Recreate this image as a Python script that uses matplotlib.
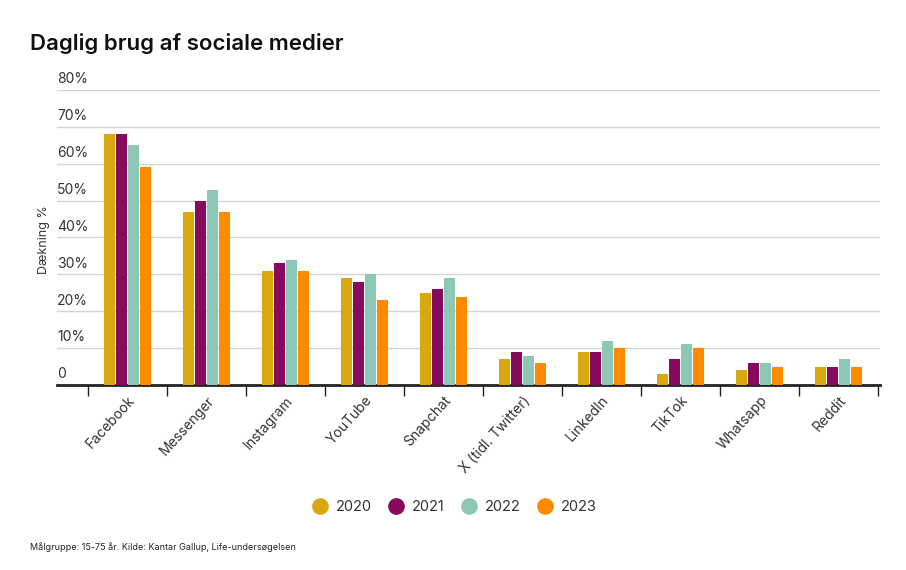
import numpy as np
import matplotlib.pyplot as plt
from matplotlib.lines import Line2D
from matplotlib import transforms

plt.rcParams['font.family'] = ['Inter', 'DejaVu Sans']

# data
platforms = ['Facebook', 'Messenger', 'Instagram', 'YouTube', 'Snapchat',
             'X (tidl. Twitter)', 'LinkedIn', 'TikTok', 'Whatsapp', 'Reddit']
years = ['2020', '2021', '2022', '2023']
v2020 = [68, 47, 31, 29, 25, 7, 9, 3, 4, 5]
v2021 = [68, 50, 33, 28, 26, 9, 9, 7, 6, 5]
v2022 = [65, 53, 34, 30, 29, 8, 12, 11, 6, 7]
v2023 = [59, 47, 31, 23, 24, 6, 10, 10, 5, 5]
yticks = [0, 10, 20, 30, 40, 50, 60, 70, 80]
ytick_labels = ['0', '10%', '20%', '30%', '40%', '50%', '60%', '70%', '80%']

cols = ['#D9A80F', '#870A5F', '#8DC8B6', '#FF8A00']
series = [v2020, v2021, v2022, v2023]

W, H = 906, 570
fig = plt.figure(figsize=(W/100, H/100), dpi=100)
ax = fig.add_axes([57/W, 1-385/H, (880-57)/W, (385-90)/H])

x = np.arange(len(platforms))
bw = 0.127
step = 0.152
for i, (vals, c) in enumerate(zip(series, cols)):
    ax.bar(x + (i-1.5)*step, vals, width=bw, color=c, zorder=3)

ax.set_ylim(0, 80)
ax.set_xlim(-0.5 - 31/79, 9.5 + 2/79)

# grid lines + labels sitting above them
for t in yticks[1:]:
    ax.axhline(t, color='#d4d4d4', lw=1, zorder=1)
ax.set_yticks([])
trans = transforms.blended_transform_factory(ax.transAxes, ax.transData)
for t, lab in zip(yticks, ytick_labels):
    ax.text(0, t + 1.0, lab, transform=trans, ha='left', va='bottom',
            fontsize=10, color='#333333')

for s in ['top', 'right', 'left']:
    ax.spines[s].set_visible(False)
ax.spines['bottom'].set_linewidth(2)
ax.spines['bottom'].set_color('#222222')

ax.set_xticks(x)
ax.set_xticklabels(platforms, rotation=48, ha='right', rotation_mode='anchor',
                   fontsize=10, color='#333333')
ax.tick_params(axis='x', which='major', length=0, pad=6)
ax.set_xticks(np.arange(-0.5, 10.0, 1), minor=True)
ax.tick_params(axis='x', which='minor', length=8, width=1, color='#222222')

fig.text(44/W, 1-240/H, 'Dækning %', rotation=90, ha='center', va='center',
         fontsize=9, color='#333333')

fig.text(30/W, 1-43/H, 'Daglig brug af sociale medier', ha='left', va='center',
         fontsize=16, fontweight='semibold', color='#111111')

handles = [Line2D([], [], marker='o', ls='', markersize=11, color=c) for c in cols]
fig.legend(handles, years, loc='center', bbox_to_anchor=(451/W, 1-507/H), ncol=4,
           frameon=False, fontsize=10.5, handletextpad=0.05, columnspacing=0.7,
           labelcolor='#333333')

fig.text(30/W, 1-547/H, 'Målgruppe: 15-75 år. Kilde: Kantar Gallup, Life-undersøgelsen',
         ha='left', va='center', fontsize=6.5, color='#222222')

fig.savefig('out.png', dpi=100)
